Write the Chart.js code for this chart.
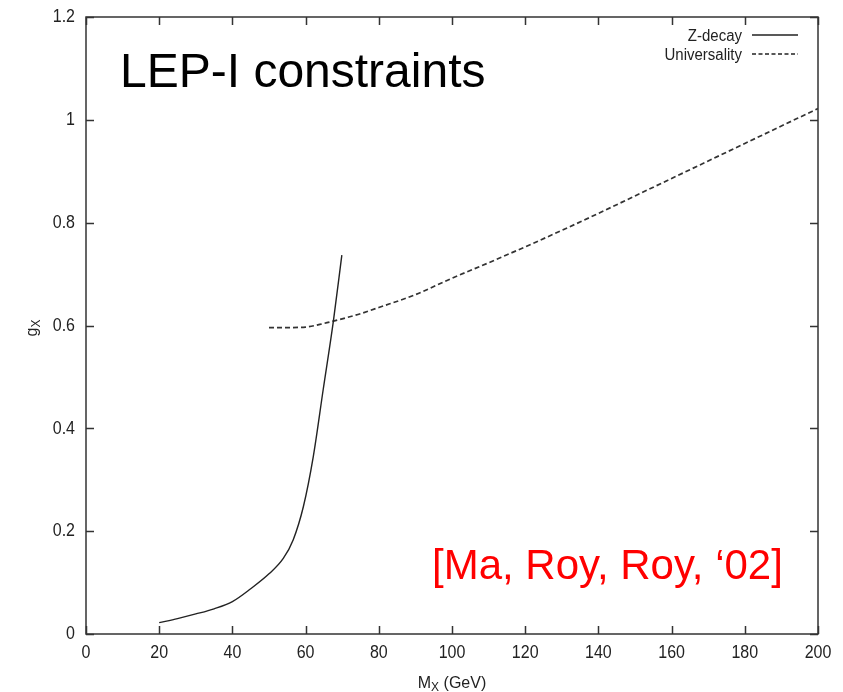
<!DOCTYPE html>
<html>
<head>
<meta charset="utf-8">
<script src="https://cdn.jsdelivr.net/npm/chart.js@4.4.1/dist/chart.umd.min.js"></script>
<style>
  html, body { margin: 0; padding: 0; background: #fff; }
  #wrap { width: 843px; height: 692px; }
</style>
</head>
<body>
<div id="wrap"><canvas id="lep-chart" width="843" height="692"></canvas></div>
<script>
// Z-decay constraint (solid)
const zDecayMass = [20, 25, 30, 35, 40, 45, 50, 53.9, 56.6, 59.4, 62.1, 64.8, 67.6, 69.9];
const zDecayCoupling = [0.022, 0.030, 0.039, 0.049, 0.063, 0.088, 0.117, 0.147, 0.183, 0.248, 0.345, 0.475, 0.609, 0.737];

// Universality constraint (dashed)
const univMass = [50, 55, 60, 65, 70, 75, 80, 90, 100, 110, 120, 130, 140, 150, 160, 170, 180, 190, 200];
const univCoupling = [0.596, 0.596, 0.597, 0.604, 0.613, 0.623, 0.635, 0.66, 0.692, 0.722, 0.753, 0.785, 0.818, 0.852, 0.886, 0.92, 0.954, 0.988, 1.022];

// axis ticks
const xTicks = [0, 20, 40, 60, 80, 100, 120, 140, 160, 180, 200];
const yTicks = [0, 0.2, 0.4, 0.6, 0.8, 1, 1.2];
const yTickLabels = ['0', '0.2', '0.4', '0.6', '0.8', '1', '1.2'];

const legendItems = ['Z-decay', 'Universality'];

function toPoints(xs, ys) {
    return xs.map((x, i) => ({ x: x, y: ys[i] }));
}

// text slightly stretched vertically, like the gnuplot output
function stretchedText(ctx, text, x, y, align, sy) {
    ctx.save();
    ctx.translate(x, y);
    ctx.scale(1, sy);
    ctx.textAlign = align;
    ctx.textBaseline = 'middle';
    ctx.fillText(text, 0, 0);
    ctx.restore();
}

const frame = {
    id: 'frame',
    afterDatasetsDraw(chart) {
        const ctx = chart.ctx;
        const area = chart.chartArea;
        const xs = chart.scales.x;
        const ys = chart.scales.y;
        const tick = 8;

        ctx.save();
        ctx.strokeStyle = '#333';
        ctx.lineWidth = 1.5;
        ctx.strokeRect(area.left, area.top, area.right - area.left, area.bottom - area.top);

        // inward ticks on all four sides
        ctx.beginPath();
        xTicks.forEach(v => {
            const px = Math.round(xs.getPixelForValue(v)) + 0.5;
            ctx.moveTo(px, area.bottom); ctx.lineTo(px, area.bottom - tick);
            ctx.moveTo(px, area.top); ctx.lineTo(px, area.top + tick);
        });
        yTicks.forEach(v => {
            const py = Math.round(ys.getPixelForValue(v)) + 0.5;
            ctx.moveTo(area.left, py); ctx.lineTo(area.left + tick, py);
            ctx.moveTo(area.right, py); ctx.lineTo(area.right - tick, py);
        });
        ctx.stroke();

        // tick labels
        ctx.fillStyle = '#222';
        ctx.font = '16px "Liberation Sans", Arial, sans-serif';
        xTicks.forEach(v => {
            stretchedText(ctx, String(v), xs.getPixelForValue(v), area.bottom + 19, 'center', 1.2);
        });
        yTicks.forEach((v, i) => {
            stretchedText(ctx, yTickLabels[i], area.left - 11, ys.getPixelForValue(v), 'right', 1.2);
        });

        // x title: M_X (GeV)
        ctx.textBaseline = 'alphabetic';
        ctx.textAlign = 'left';
        ctx.font = '16px "Liberation Sans", Arial, sans-serif';
        const mW = ctx.measureText('M').width;
        ctx.font = '12px "Liberation Sans", Arial, sans-serif';
        const xW = ctx.measureText('X').width;
        ctx.font = '16px "Liberation Sans", Arial, sans-serif';
        const restW = ctx.measureText(' (GeV)').width;
        let tx = (area.left + area.right) / 2 - (mW + xW + restW) / 2;
        const ty = 688;
        ctx.fillText('M', tx, ty);
        ctx.font = '12px "Liberation Sans", Arial, sans-serif';
        ctx.fillText('X', tx + mW, ty + 3);
        ctx.font = '16px "Liberation Sans", Arial, sans-serif';
        ctx.fillText(' (GeV)', tx + mW + xW, ty);

        // y title: g_X rotated
        ctx.save();
        ctx.translate(37, (area.top + area.bottom) / 2 + 2);
        ctx.rotate(-Math.PI / 2);
        ctx.font = '16px "Liberation Sans", Arial, sans-serif';
        const gW = ctx.measureText('g').width;
        ctx.fillText('g', -gW, 0);
        ctx.font = '12px "Liberation Sans", Arial, sans-serif';
        ctx.fillText('X', 0, 3);
        ctx.restore();

        // legend, text on the left and sample line on the right
        ctx.font = '15px "Liberation Sans", Arial, sans-serif';
        ctx.fillStyle = '#222';
        legendItems.forEach((label, i) => {
            const ly = 36 + i * 19;
            stretchedText(ctx, label, 742, ly, 'right', 1.15);
            ctx.beginPath();
            ctx.strokeStyle = '#222';
            ctx.lineWidth = 1.3;
            ctx.setLineDash(i === 0 ? [] : [4, 2.5]);
            ctx.moveTo(752, ly - 1);
            ctx.lineTo(798, ly - 1);
            ctx.stroke();
        });
        ctx.setLineDash([]);

        // annotations
        ctx.fillStyle = '#000';
        ctx.font = '48px "Liberation Sans", Arial, sans-serif';
        ctx.textAlign = 'left';
        ctx.textBaseline = 'alphabetic';
        ctx.fillText('LEP-I constraints', 120, 87);

        ctx.fillStyle = '#ff0000';
        ctx.font = '42px "Liberation Sans", Arial, sans-serif';
        ctx.fillText('[Ma, Roy, Roy, \u201802]', 432, 579);
        ctx.restore();
    }
};

const ctxLep = document.getElementById('lep-chart').getContext('2d');
const lepChart = new Chart(ctxLep, {
    type: 'line',
    data: {
        datasets: [{
            label: legendItems[0],
            data: toPoints(zDecayMass, zDecayCoupling),
            borderColor: '#222',
            borderWidth: 1.4,
            pointRadius: 0,
            cubicInterpolationMode: 'monotone',
            fill: false
        }, {
            label: legendItems[1],
            data: toPoints(univMass, univCoupling),
            borderColor: '#333',
            borderWidth: 1.7,
            borderDash: [5, 3],
            pointRadius: 0,
            cubicInterpolationMode: 'monotone',
            fill: false
        }]
    },
    options: {
        responsive: false,
        animation: false,
        events: [],
        layout: { padding: { left: 86, top: 17, right: 25, bottom: 58 } },
        scales: {
            x: { type: 'linear', min: 0, max: 200, display: false },
            y: { type: 'linear', min: 0, max: 1.2, display: false }
        },
        plugins: {
            legend: { display: false },
            tooltip: { enabled: false }
        }
    },
    plugins: [frame]
});
</script>
</body>
</html>
